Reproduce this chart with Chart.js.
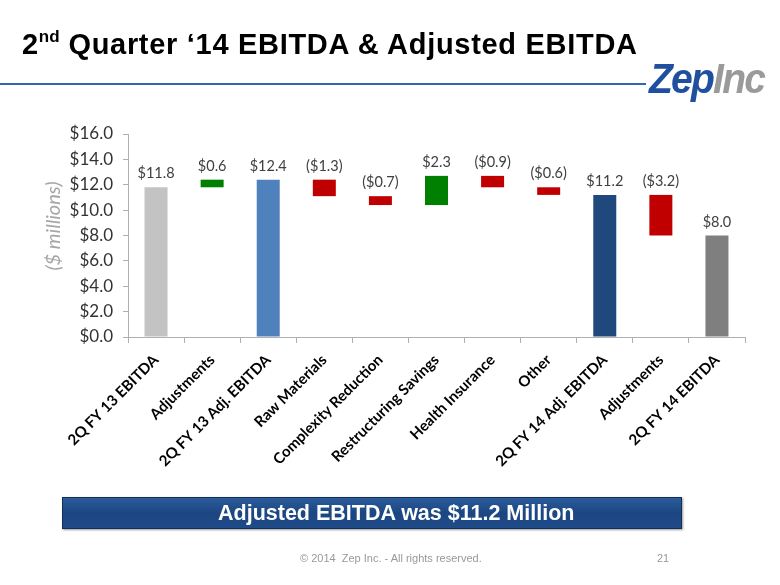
<!DOCTYPE html>
<html>
<head>
<meta charset="utf-8">
<script src="https://cdn.jsdelivr.net/npm/chart.js@4.4.1/dist/chart.umd.min.js"></script>
<style>
  body { margin: 0; background: #fff; }
  #page { position: relative; width: 780px; height: 585px; overflow: hidden; font-family: "Liberation Sans", Arial, sans-serif; }
  #chart_1 { position: absolute; left: 0; top: 0; }
  .title { position: absolute; left: 22px; top: 28px; font-weight: bold; font-size: 29px; letter-spacing: 0.7px; color: #000; white-space: nowrap; }
  .title sup { font-size: 17px; vertical-align: 12px; line-height: 0; letter-spacing: 0; }
  .rule { position: absolute; left: 0; top: 83px; width: 646px; height: 2px; background: #3465b0; }
  .logo { position: absolute; left: 649px; top: 54px; font-weight: bold; font-style: italic; font-size: 43px; letter-spacing: -2px; white-space: nowrap; transform: scaleX(0.91); transform-origin: 0 0; }
  .logo .zep { color: #1f4f9e; }
  .logo .inc { color: #9a9a9a; }
  .banner { position: absolute; left: 62px; top: 497px; width: 463px; padding-left: 155px; height: 30px; background: linear-gradient(#2c5c9b, #1b4682 50%, #1f4b88); border: 1px solid #13305a; box-shadow: 1px 1px 2px #999; color: #fff; font-weight: bold; font-size: 21.5px; text-align: left; line-height: 30px; white-space: nowrap; }
  .footer { position: absolute; top: 552px; font-size: 11px; color: #999; }
</style>
</head>
<body>
<div id="page">
  <canvas id="chart_1" width="780" height="585"></canvas>
  <div class="title">2<sup>nd</sup> Quarter ‘14 EBITDA &amp; Adjusted EBITDA</div>
  <div class="rule"></div>
  <div class="logo"><span class="zep">Zep</span><span class="inc">Inc</span></div>
  <div class="banner">Adjusted EBITDA was $11.2 Million</div>
  <div class="footer" style="left:300px;">© 2014&nbsp; Zep Inc. - All rights reserved.</div>
  <div class="footer" style="left:657px;">21</div>
</div>
<script>
// waterfall data ($ millions)
var categories = ['2Q FY 13 EBITDA', 'Adjustments', '2Q FY 13 Adj. EBITDA', 'Raw Materials',
  'Complexity Reduction', 'Restructuring Savings', 'Health Insurance', 'Other',
  '2Q FY 14 Adj. EBITDA', 'Adjustments', '2Q FY 14 EBITDA'];
var amounts = [11.8, 0.6, 12.4, -1.3, -0.7, 2.3, -0.9, -0.6, 11.2, -3.2, 8.0];
var isTotal = [true, false, true, false, false, false, false, false, true, false, true];
var yTicks = [0, 2, 4, 6, 8, 10, 12, 14, 16];

var barColors = ['#c3c3c3', '#008000', '#4f81bd', '#c00000', '#c00000', '#008000',
  '#c00000', '#c00000', '#1f497d', '#c00000', '#7f7f7f'];

// floating bars: totals start at 0, changes start at running total
function buildRanges(){
  var ranges = [];
  var running = 0;
  for(var i = 0; i < amounts.length; i++){
    if(isTotal[i]){
      ranges.push([0, amounts[i]]);
      running = amounts[i];
    } else {
      var next = Math.round((running + amounts[i]) * 10) / 10;
      ranges.push([Math.min(running, next), Math.max(running, next)]);
      running = next;
    }
  }
  return ranges;
}

function fmt(v){
  if(v < 0) return '($' + Math.abs(v).toFixed(1) + ')';
  return '$' + v.toFixed(1);
}

var valueLabels = {
  id: 'valueLabels',
  afterDatasetsDraw: function(chart){
    var ctx = chart.ctx;
    var meta = chart.getDatasetMeta(0);
    ctx.save();
    ctx.font = '14.5px Lato';
    ctx.fillStyle = '#404040';
    ctx.textAlign = 'center';
    ctx.textBaseline = 'alphabetic';
    meta.data.forEach(function(bar, i){
      ctx.fillText(fmt(amounts[i]), bar.x, Math.min(bar.y, bar.base) - 9);
    });
    ctx.restore();
  }
};

// axis title sits a bit above the plot's middle in the original
var yTitle = {
  id: 'yTitle',
  afterDraw: function(chart){
    var ctx = chart.ctx;
    ctx.save();
    ctx.translate(54, 226);
    ctx.rotate(-Math.PI / 2);
    ctx.font = 'italic 20px Lato';
    ctx.fillStyle = '#a6a6a6';
    ctx.textAlign = 'center';
    ctx.textBaseline = 'middle';
    ctx.fillText('($ millions)', 0, 0);
    ctx.restore();
  }
};

var ctx_1 = document.getElementById('chart_1').getContext('2d');
var chart_1 = new Chart(ctx_1, {
  type: 'bar',
  data: {
    labels: categories,
    datasets: [{
      data: buildRanges(),
      backgroundColor: barColors,
      borderWidth: 0,
      borderSkipped: false,
      barPercentage: 0.41,
      categoryPercentage: 1
    }]
  },
  options: {
    responsive: false,
    animation: false,
    layout: { padding: { left: 44, top: 134, right: 35, bottom: 107 } },
    plugins: { legend: { display: false }, tooltip: { enabled: false } },
    scales: {
      x: {
        grid: { drawOnChartArea: false, tickLength: 6, color: '#b0b0b0' },
        border: { color: '#b0b0b0' },
        ticks: { maxRotation: 45, minRotation: 45, autoSkip: false, color: '#000',
                 font: { family: 'Lato', weight: 'bold', size: 15 }, padding: 8 },
        afterFit: function(scale){ scale.height = 141; }
      },
      y: {
        min: 0,
        max: 16,
        afterBuildTicks: function(scale){ scale.ticks = yTicks.map(function(v){ return { value: v }; }); },
        grid: { drawOnChartArea: false, tickLength: 5, color: '#b0b0b0' },
        border: { color: '#b0b0b0' },
        ticks: { color: '#333', font: { family: 'Lato', size: 17 }, padding: 10,
                 callback: function(v){ return '$' + Number(v).toFixed(1); } },
        afterFit: function(scale){ scale.width = 84; }
      }
    }
  },
  plugins: [valueLabels, yTitle]
});
</script>
</body>
</html>
